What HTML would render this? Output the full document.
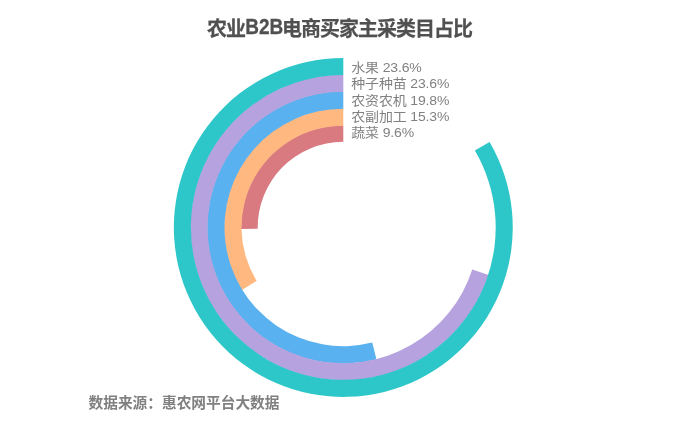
<!DOCTYPE html>
<html lang="zh"><head><meta charset="utf-8"><title>农业B2B电商买家主采类目占比</title>
<style>
html,body{margin:0;padding:0;background:#fff;}
body{width:681px;height:431px;position:relative;overflow:hidden;font-family:"Liberation Sans","Noto Sans CJK SC",sans-serif;}
svg{position:absolute;left:0;top:0;}
.title{position:absolute;left:0;width:681px;top:15.6px;height:26px;line-height:26px;text-align:center;font-size:20px;letter-spacing:-1px;text-indent:-1px;font-weight:bold;color:#505050;-webkit-text-stroke:0.25px #505050;white-space:nowrap;}
.title span{display:inline-block;}.title b{font-size:19px;letter-spacing:0;display:inline-block;transform:translate(1.3px,-1px) scaleY(1.13);transform-origin:50% 100%;}
.lab{position:absolute;left:351.2px;transform:scaleY(0.9);transform-origin:0 50%;margin-top:0.3px;letter-spacing:-0.15px;height:20px;line-height:20px;font-size:14px;color:#808080;white-space:nowrap;}
.foot{position:absolute;left:88.5px;top:392.5px;height:20px;line-height:20px;font-size:14.7px;font-weight:bold;color:#808080;white-space:nowrap;}
</style></head><body>
<svg width="681" height="431" viewBox="0 0 681 431">
<path d="M343.30 125.15A102.3 102.3 0 0 0 241.01 228.88L257.71 228.65A85.6 85.6 0 0 1 343.30 141.85Z" fill="#d87a80"/>
<path d="M343.30 108.20A119.25 119.25 0 0 0 241.84 290.11L256.69 280.94A101.8 101.8 0 0 1 343.30 125.65Z" fill="#ffb980"/>
<path d="M343.30 91.25A136.2 136.2 0 1 0 376.48 359.55L372.23 342.62A118.75 118.75 0 1 1 343.30 108.70Z" fill="#5ab1ef"/>
<path d="M343.30 74.55A152.9 152.9 0 1 0 488.63 274.95L472.28 269.61A135.7 135.7 0 1 1 343.30 91.75Z" fill="#b6a2de"/>
<path d="M343.30 58.00A169.45 169.45 0 1 0 489.60 141.96L474.88 150.56A152.4 152.4 0 1 1 343.30 75.05Z" fill="#2ec7c9"/>
</svg>
<div class="title"><span>农业<b>B2B</b>电商买家主采类目占比</span></div>
<div class="lab" style="top:57.1px">水果 23.6%</div>
<div class="lab" style="top:73.2px">种子种苗 23.6%</div>
<div class="lab" style="top:89.5px">农资农机 19.8%</div>
<div class="lab" style="top:105.8px">农副加工 15.3%</div>
<div class="lab" style="top:122.2px">蔬菜 9.6%</div>
<div class="foot">数据来源：惠农网平台大数据</div>
</body></html>
